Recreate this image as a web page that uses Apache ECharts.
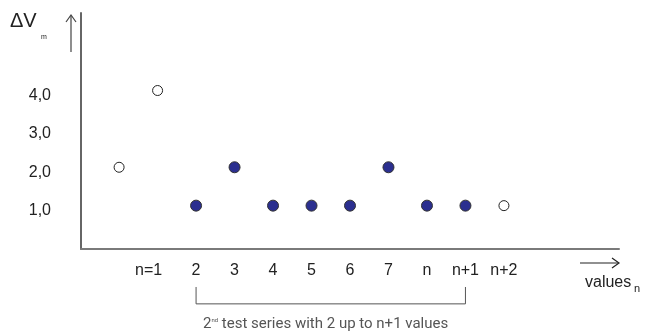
<!DOCTYPE html>
<html>
<head>
<meta charset="utf-8">
<script src="https://cdn.jsdelivr.net/npm/echarts@6/dist/echarts.min.js"></script>
<style>html,body{margin:0;padding:0;background:#fff;}#c{width:645px;height:334px;}</style>
</head>
<body>
<div id="c"></div>
<script>
// x tick labels placed at positions 1..10
const xLabelPos = [1, 2, 3, 4, 5, 6, 7, 8, 9, 10];
const xLabels = ['n=1', '2', '3', '4', '5', '6', '7', 'n', 'n+1', 'n+2'];
// y tick labels
const yTicks = [1, 2, 3, 4];
const yTickLabels = ['1,0', '2,0', '3,0', '4,0'];
// open (white) points
const openX = [0, 1, 10];
const openY = [2.0, 4.0, 1.0];
// filled (blue) points
const filledX = [2, 3, 4, 5, 6, 7, 8, 9];
const filledY = [1.0, 2.0, 1.0, 1.0, 1.0, 2.0, 1.0, 1.0];
// bracket spanning the 2nd test series
const bracketX = [2, 9];
const bracketY = [-1.12, -1.56];

const chart = echarts.init(document.getElementById('c'), null, {renderer: 'canvas'});
const font = 'Arial, "Liberation Sans", sans-serif';

const option = {
  animation: false,
  backgroundColor: '#fff',
  grid: {left: 81, right: 26, top: 13, bottom: 85},
  xAxis: {
    type: 'value', min: -0.99, max: 12.99,
    splitLine: {show: false},
    axisTick: {show: false},
    axisLine: {show: true, onZero: false, lineStyle: {color: '#7a7a7a', width: 2}},
    axisLabel: {
      customValues: xLabelPos,
      margin: 14,
      fontSize: 16, fontFamily: font, color: '#222',
      formatter: function (v) {
        const i = xLabelPos.indexOf(Math.round(v));
        if (i < 0) return '';
        return i === 0 ? '{s|' + xLabels[i] + '}' : xLabels[i];
      },
      rich: {s: {fontSize: 16, fontFamily: font, color: '#222', padding: [0, 18, 0, 0]}}
    }
  },
  yAxis: {
    type: 'value', min: -0.13, max: 6.02,
    splitLine: {show: false},
    axisTick: {show: false},
    axisLine: {show: true, onZero: false, lineStyle: {color: '#666', width: 2}},
    axisLabel: {
      customValues: yTicks,
      margin: 30,
      fontSize: 16, fontFamily: font, color: '#222',
      formatter: function (v) {
        const i = yTicks.indexOf(Math.round(v));
        return i < 0 ? '' : '{a|' + yTickLabels[i] + '}';
      },
      rich: {a: {fontSize: 16, fontFamily: font, color: '#222', padding: [10, 0, 0, 0]}}
    }
  },
  series: [
    {
      type: 'scatter', symbol: 'circle', symbolSize: 10,
      itemStyle: {color: '#fff', borderColor: '#222', borderWidth: 1, opacity: 1},
      data: openX.map((x, i) => [x, openY[i]])
    },
    {
      type: 'scatter', symbol: 'circle', symbolSize: 11,
      itemStyle: {color: '#2b2f8f', borderColor: '#333', borderWidth: 1, opacity: 1},
      data: filledX.map((x, i) => [x, filledY[i]])
    },
    {
      type: 'line', clip: false, symbol: 'none', silent: true,
      lineStyle: {color: '#555', width: 1},
      data: [[bracketX[0], bracketY[0]], [bracketX[0], bracketY[1]], [bracketX[1], bracketY[1]], [bracketX[1], bracketY[0]]]
    }
  ],
  graphic: [
    {type: 'text', left: 10, top: 11, style: {text: 'ΔV', font: '20px ' + font, fill: '#222'}},
    {type: 'text', left: 41, top: 34, style: {text: 'm', font: '7px ' + font, fill: '#222'}},
    // up arrow
    {type: 'line', shape: {x1: 71, y1: 16, x2: 71, y2: 52}, style: {stroke: '#444', lineWidth: 1.2}},
    {type: 'polyline', shape: {points: [[66, 22], [71, 15], [76, 22]]}, style: {stroke: '#444', lineWidth: 1.2, fill: null}},
    // right arrow
    {type: 'line', shape: {x1: 580, y1: 263, x2: 618, y2: 263}, style: {stroke: '#222', lineWidth: 1.2}},
    {type: 'polyline', shape: {points: [[612, 258], [619, 263], [612, 268]]}, style: {stroke: '#222', lineWidth: 1.2, fill: null}},
    {type: 'text', left: 585, top: 275, style: {text: 'values', font: '16px ' + font, fill: '#222'}},
    {type: 'text', left: 634, top: 283, style: {text: 'n', font: '11px ' + font, fill: '#222'}},
    {type: 'text', left: 203, top: 317, style: {
      text: '2{sup|nd} test series with 2 up to n+1 values',
      font: '15px Roboto, sans-serif', fill: '#555',
      rich: {sup: {fontSize: 6, fontFamily: 'Roboto', fill: '#555', color: '#555', verticalAlign: 'top', padding: [0, 0, 7, 0]}}
    }}
  ]
};
chart.setOption(option);
</script>
</body>
</html>
